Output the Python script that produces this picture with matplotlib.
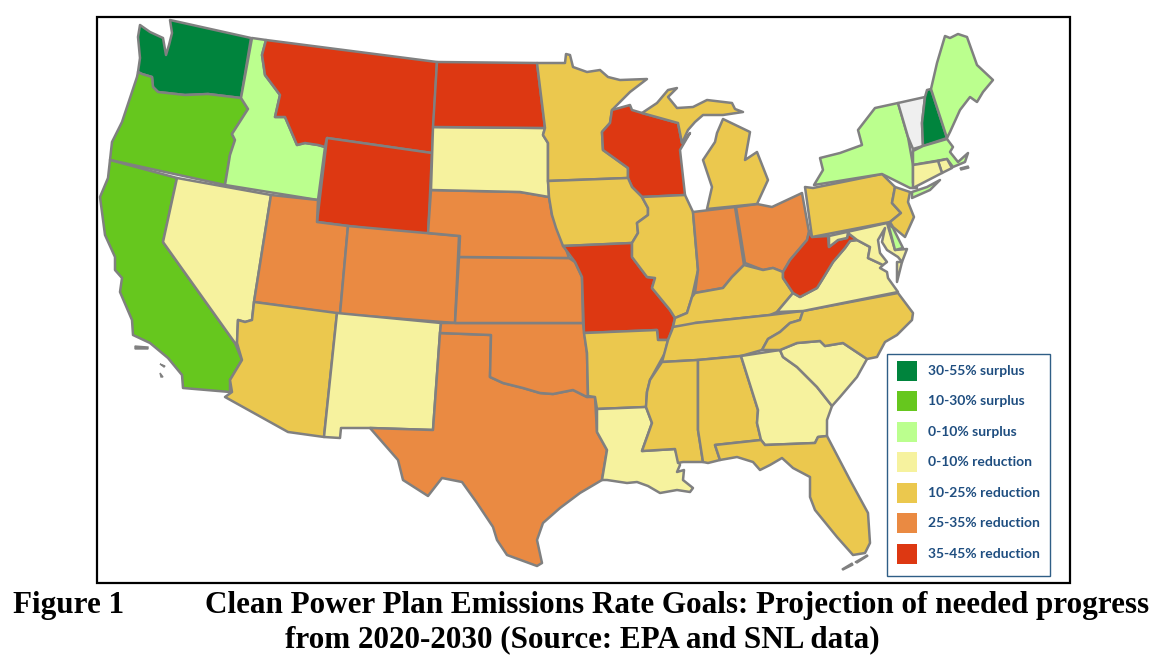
import matplotlib
matplotlib.use("Agg")
import matplotlib.pyplot as plt
from matplotlib.patches import Polygon, Rectangle

# ---- data: legend classes and the states in each ----
class_labels = ["30-55% surplus", "10-30% surplus", "0-10% surplus", "0-10% reduction",
                "10-25% reduction", "25-35% reduction", "35-45% reduction"]
class_colors = ["#00843D", "#66C71E", "#BBFF8E", "#F6F29E", "#EBC84E", "#EA8A42", "#DD3812"]
surplus_high = ["WA", "NH"]
surplus_mid = ["OR", "CA"]
surplus_low = ["ID", "NY", "ME", "MA", "DE"]
reduction_low = ["NV", "NM", "SD", "LA", "GA", "SC", "VA", "MD", "CT", "RI"]
reduction_mid = ["AZ", "MN", "IA", "IL", "MI", "AR", "MS", "AL", "FL", "TN", "KY", "NC", "PA", "NJ"]
reduction_high = ["UT", "CO", "NE", "KS", "OK", "TX", "IN", "OH"]
reduction_top = ["MT", "WY", "ND", "WI", "MO", "WV"]
class_states = [surplus_high, surplus_mid, surplus_low, reduction_low,
                reduction_mid, reduction_high, reduction_top]
no_data_states = ["VT"]
no_data_color = "#EFEFEF"

outlines = {
 "WA": [[(140,25),(150,32),(163,38),(166,55),(169,45),(172,33),(170,20),(251,38),(241,98),(208,94),(185,95),(158,92),(153,87),(152,77),(142,74),(138,72),(140,58),(138,37)]],
 "OR": [[(138,72),(142,74),(152,77),(153,87),(158,92),(185,95),(208,94),(241,98),(248,109),(232,134),(235,140),(230,155),(225,185),(110,160),(112,142),(122,122),(137,77)]],
 "CA": [[(110,160),(177,178),(163,242),(235,343),(242,360),(230,380),(230,392),(183,388),(182,375),(168,358),(150,343),(133,335),(132,320),(120,292),(122,278),(115,270),(115,257),(105,235),(100,197),(108,178)]],
 "NV": [[(177,178),(271,195),(254,302),(252,320),(245,322),(238,320),(237,343),(235,343),(163,242)]],
 "ID": [[(252,38),(266,40),(262,55),(265,75),(280,95),(275,117),(285,117),(297,145),(305,143),(318,145),(325,147),(318,200),(225,185),(230,155),(235,140),(232,134),(248,109),(241,98)]],
 "MT": [[(266,40),(437,62),(432,153),(327,138),(325,147),(318,145),(305,143),(297,145),(285,117),(275,117),(280,95),(265,75),(262,55)]],
 "WY": [[(327,138),(432,153),(428,236),(317,222)]],
 "UT": [[(271,195),(318,200),(317,222),(348,226),(340,314),(254,302)]],
 "CO": [[(348,226),(459,236),(455,323),(340,314)]],
 "AZ": [[(254,302),(337,313),(324,437),(288,432),(225,397),(232,392),(230,380),(242,360),(237,343),(238,320),(245,322),(252,320)]],
 "NM": [[(337,313),(441,323),(440,333),(433,430),(370,428),(341,428),(340,438),(324,437)]],
 "TX": [[(440,333),(491,335),(490,377),(503,383),(523,388),(540,393),(553,394),(573,390),(587,397),(595,397),(597,432),(607,450),(602,480),(580,493),(560,508),(543,523),(537,540),(542,563),(537,566),(507,555),(497,540),(493,527),(477,503),(462,482),(442,478),(428,496),(403,480),(398,460),(370,428),(433,430)]],
 "OK": [[(441,323),(583,323),(587,353),(588,396),(587,397),(573,390),(553,394),(540,393),(523,388),(503,383),(490,377),(491,335),(440,333)]],
 "KS": [[(459,257),(569,258),(575,262),(582,277),(583,323),(455,323)]],
 "NE": [[(431,190),(520,192),(549,197),(552,215),(563,240),(569,258),(459,257),(460,236),(428,233)]],
 "SD": [[(433,127),(545,128),(543,135),(548,143),(548,181),(549,197),(520,192),(431,190)]],
 "ND": [[(437,62),(537,63),(545,128),(433,127)]],
 "MN": [[(537,63),(565,63),(566,54),(570,55),(573,67),(587,72),(600,70),(608,77),(620,80),(647,79),(630,92),(612,110),(610,123),(602,132),(603,150),(628,168),(628,178),(548,181),(548,143),(543,135),(545,128)]],
 "WI": [[(612,110),(630,105),(632,110),(642,113),(660,118),(678,123),(682,143),(690,133),(680,150),(685,195),(642,197),(632,187),(628,178),(628,168),(603,150),(602,132),(610,123)]],
 "IA": [[(548,181),(628,178),(632,187),(642,197),(648,208),(648,215),(637,223),(638,233),(632,243),(563,246),(556,228),(552,215),(549,197)]],
 "MO": [[(563,246),(632,243),(632,257),(647,277),(655,278),(652,288),(670,310),(675,318),(672,330),(668,340),(658,340),(657,330),(584,333),(582,277),(575,262)]],
 "AR": [[(584,333),(657,330),(658,340),(668,340),(665,353),(650,380),(647,392),(646,407),(597,409),(595,397),(588,396),(587,353)]],
 "LA": [[(597,409),(646,407),(652,423),(642,451),(675,449),(680,465),(677,472),(684,470),(683,480),(693,488),(690,492),(677,490),(660,493),(648,486),(637,482),(627,483),(607,480),(602,480),(607,450),(597,432)]],
 "IL": [[(642,197),(685,195),(693,212),(698,270),(692,297),(687,313),(675,318),(670,310),(652,288),(655,278),(647,277),(632,257),(632,243),(638,233),(637,223),(648,215),(648,208)]],
 "IN": [[(693,212),(735,207),(744,265),(732,277),(723,288),(695,293),(698,270)]],
 "OH": [[(736,207),(757,204),(772,207),(802,193),(809,232),(807,240),(790,260),(783,272),(773,268),(763,270),(745,263)]],
 "MI": [[(707,209),(712,187),(703,160),(715,142),(717,133),(723,119),(750,132),(745,160),(757,152),(768,180),(757,204)],
        [(642,113),(657,103),(668,90),(677,88),(668,97),(677,108),(693,107),(707,100),(732,103),(735,109),(743,112),(723,115),(703,115),(695,122),(688,130),(682,143),(678,123),(660,118)]],
 "KY": [[(692,297),(695,293),(723,288),(732,277),(744,265),(763,270),(773,268),(783,272),(783,278),(793,293),(777,312),(770,315),(695,323),(695,326),(673,327),(675,318),(687,313)]],
 "TN": [[(673,327),(695,323),(770,315),(803,311),(800,320),(790,323),(780,332),(768,339),(762,350),(741,356),(698,360),(662,362),(668,340),(672,330)]],
 "MS": [[(662,362),(698,360),(698,430),(703,462),(683,462),(678,463),(675,449),(642,451),(652,423),(646,407),(647,392),(650,380)]],
 "AL": [[(698,360),(741,356),(758,410),(757,423),(761,440),(715,445),(720,460),(708,463),(703,462),(698,430)]],
 "GA": [[(741,356),(780,350),(783,357),(797,367),(817,387),(832,406),(827,420),(827,436),(818,437),(815,443),(765,445),(761,440),(757,423),(758,410)]],
 "FL": [[(715,445),(761,440),(765,445),(815,443),(818,437),(827,436),(850,480),(868,513),(870,543),(865,553),(853,555),(837,537),(815,510),(810,497),(810,477),(793,468),(782,458),(770,465),(760,470),(753,462),(737,457),(720,460)]],
 "SC": [[(780,350),(797,343),(820,341),(825,346),(843,343),(867,359),(857,377),(840,397),(832,406),(817,387),(797,367),(783,357)]],
 "NC": [[(803,311),(898,293),(913,313),(912,320),(897,335),(885,342),(877,357),(867,359),(843,343),(825,346),(820,341),(797,343),(780,350),(762,350),(768,339),(780,332),(790,323),(800,320)]],
 "VA": [[(777,312),(793,293),(800,297),(817,288),(822,280),(833,262),(845,248),(850,241),(857,240),(870,247),(868,258),(883,265),(880,268),(887,272),(888,278),(898,292),(803,311)],
        [(897,262),(902,262),(897,282)]],
 "WV": [[(809,232),(812,237),(828,236),(829,247),(838,240),(847,238),(848,233),(857,240),(850,241),(845,248),(833,262),(822,280),(817,288),(800,297),(793,293),(783,278),(783,272),(790,260),(807,240)]],
 "MD": [[(829,236),(887,223),(895,250),(907,249),(902,262),(898,257),(887,250),(882,242),(885,228),(878,240),(880,253),(887,262),(883,265),(868,258),(870,247),(857,240),(848,233),(847,238),(838,240),(829,247)]],
 "DE": [[(888,223),(893,228),(903,248),(895,250)]],
 "PA": [[(805,187),(813,188),(882,174),(895,187),(892,203),(901,213),(890,222),(812,237)]],
 "NJ": [[(895,187),(910,192),(908,202),(914,217),(905,237),(893,227),(890,222),(901,213),(892,203)]],
 "NY": [[(814,185),(823,170),(820,158),(840,153),(862,145),(858,130),(875,108),(898,103),(908,137),(913,165),(913,183),(917,188),(910,188),(882,174)],
        [(912,192),(927,187),(940,180),(930,190),(912,198)]],
 "VT": [[(898,103),(925,97),(922,123),(923,146),(913,149),(908,137)]],
 "NH": [[(927,90),(931,89),(947,138),(923,146),(922,123),(925,97)]],
 "ME": [[(931,89),(937,63),(945,36),(950,38),(958,34),(967,37),(977,65),(993,80),(983,92),(977,102),(970,97),(960,110),(950,132),(947,138)]],
 "MA": [[(913,151),(923,146),(947,139),(953,147),(950,152),(958,162),(968,153),(965,162),(953,167),(947,159),(913,165)]],
 "RI": [[(938,161),(947,159),(952,168),(942,173)]],
 "CT": [[(913,165),(938,161),(942,173),(913,188)]],
}
# small islands drawn in the outline colour only
islands = [[(135,346),(148,347),(148,349),(135,349)], [(160,364),(165,366),(164,367)],
           [(160,373),(163,377),(161,377)], [(842,569),(852,563),(853,565),(843,570)],
           [(855,562),(867,555),(868,556),(857,563)], [(960,168),(968,166),(969,168),(961,170)]]

# ---- figure ----
fig = plt.figure(figsize=(11.68, 6.72), dpi=100)
ax = fig.add_axes([0, 0, 1, 1])
ax.set_xlim(0, 1168)
ax.set_ylim(672, 0)
ax.axis("off")

ax.add_patch(Rectangle((97, 17), 973, 566, fc="white", ec="black", lw=1.6, zorder=1))

state_color = {s: no_data_color for s in no_data_states}
for states, color in zip(class_states, class_colors):
    for s in states:
        state_color[s] = color

for state, parts in outlines.items():
    for part in parts:
        ax.add_patch(Polygon(part, closed=True, fc=state_color[state], ec="#808080",
                             lw=1.8, joinstyle="round", zorder=2))
for part in islands:
    ax.add_patch(Polygon(part, closed=True, fc="#808080", ec="#808080", lw=1.0, zorder=2))

# ---- legend ----
ax.add_patch(Rectangle((887, 354), 163, 222, fc="white", ec="#2F5E86", lw=1.0, zorder=3))
legend_y = [371, 401, 432, 462, 493, 523, 554]
for y, color, label in zip(legend_y, class_colors, class_labels):
    ax.add_patch(Rectangle((897, y - 10), 20, 20, fc=color, ec="none", zorder=4))
    ax.text(928, y, label, family="Lato", weight="bold", fontsize=10, color="#1F4E80",
            va="center", ha="left", zorder=4)

# ---- caption ----
cap = dict(family="Liberation Serif", weight="bold", fontsize=22.4, color="black", va="center")
ax.text(13, 605, "Figure 1", ha="left", **cap)
ax.text(205, 605, "Clean Power Plan Emissions Rate Goals: Projection of needed progress", ha="left", **cap)
ax.text(285, 640, "from 2020-2030 (Source: EPA and SNL data)", ha="left", **cap)

fig.savefig("out.png", dpi=100)
